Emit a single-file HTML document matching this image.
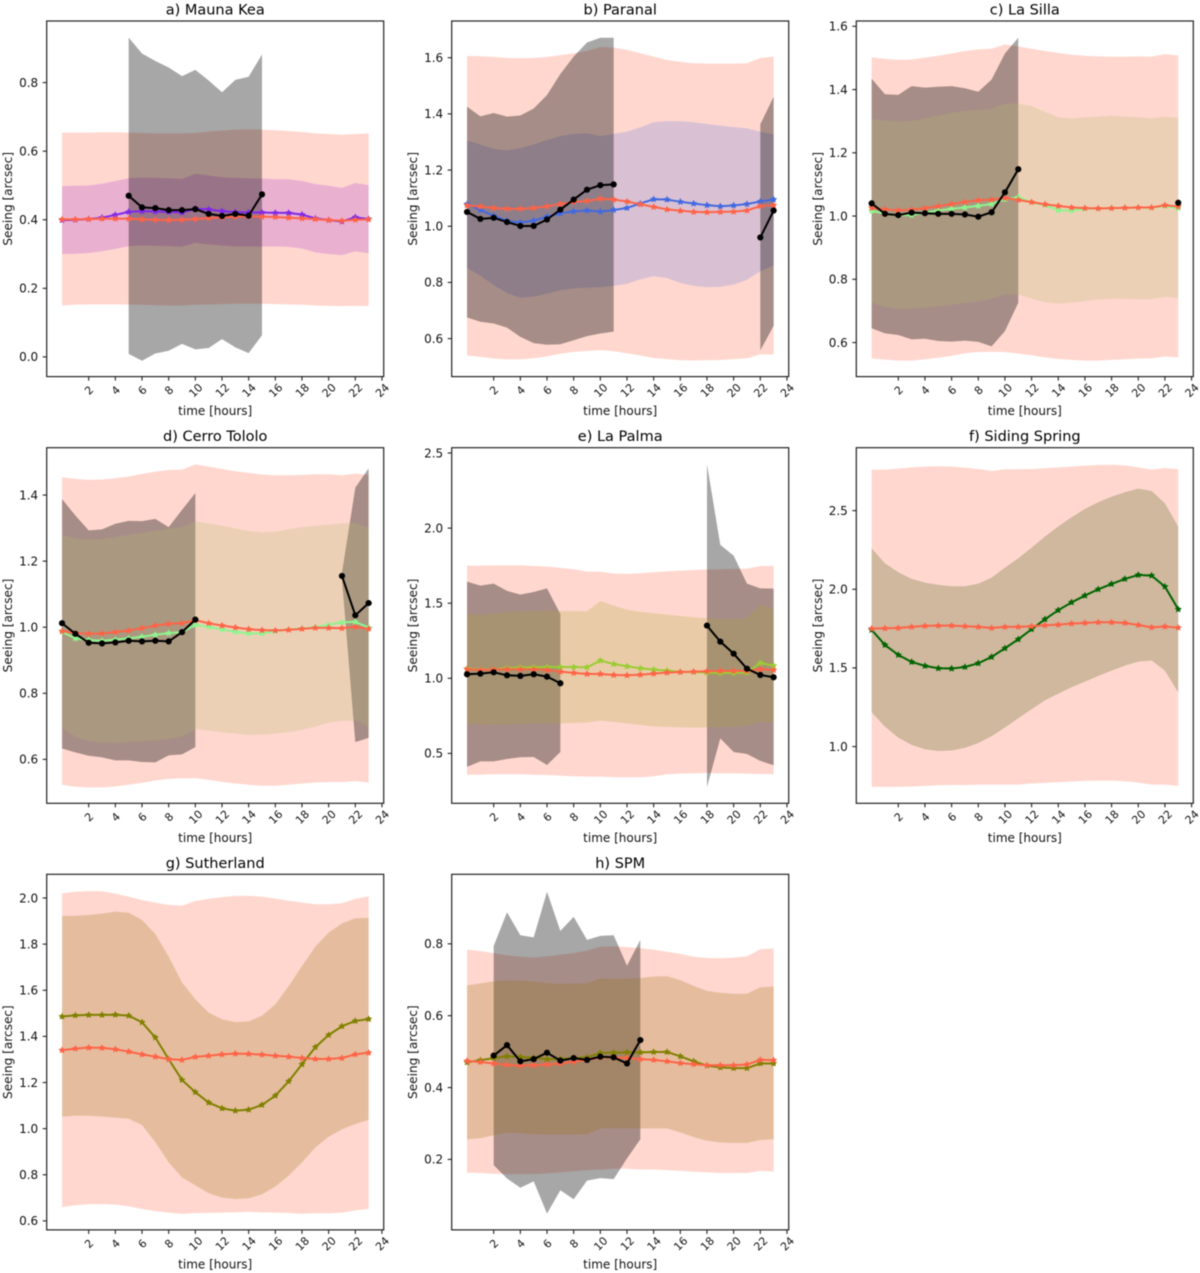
<!DOCTYPE html>
<html lang="en">
<head>
<meta charset="utf-8">
<title>Seeing versus time at eight observatory sites</title>
<style>
html,body{margin:0;padding:0;background:#fff;}
svg{display:block;font-family:"DejaVu Sans","Liberation Sans",sans-serif;filter:blur(0.4px);}
</style>
</head>
<body>
<svg id="figure" xmlns="http://www.w3.org/2000/svg" width="1200" height="1273" viewBox="0 0 1200 1273"></svg>
<script>
const _ = null;
const hours = [0,1,2,3,4,5,6,7,8,9,10,11,12,13,14,15,16,17,18,19,20,21,22,23];
const xTickValues = [2,4,6,8,10,12,14,16,18,20,22,24];
const xAxisLabel = 'time [hours]';
const yAxisLabel = 'Seeing [arcsec]';

// a) Mauna Kea
const aTicks = [0.0,0.2,0.4,0.6,0.8];
const aPinkUp = [.654,.654,.654,.655,.655,.654,.653,.652,.652,.652,.653,.657,.660,.663,.664,.663,.661,.659,.656,.652,.650,.648,.650,.652];
const aPinkLo = [.150,.152,.153,.153,.153,.153,.152,.151,.150,.150,.152,.153,.154,.155,.155,.155,.154,.153,.152,.150,.149,.148,.149,.149];
const aRed = [.401,.401,.402,.403,.403,.403,.401,.400,.399,.400,.402,.405,.407,.409,.410,.409,.408,.406,.404,.402,.399,.397,.400,.401];
const aMid = [.399,.400,.402,.406,.414,.423,.425,.424,.423,.421,.432,.430,.425,.422,.421,.421,.420,.420,.415,.404,.399,.395,.407,.402];
const aBandUp = [.498,.499,.500,.505,.513,.521,.523,.522,.521,.519,.534,.529,.524,.522,.521,.520,.518,.518,.513,.504,.499,.493,.507,.501];
const aBandLo = [.300,.301,.303,.308,.315,.323,.325,.324,.323,.321,.333,.328,.325,.322,.322,.322,.322,.321,.316,.305,.300,.297,.308,.302];
const aBlack = [_,_,_,_,_,.470,.436,.434,.428,.428,.431,.417,.411,.417,.412,.474,_,_,_,_,_,_,_,_];
const aBlackUp = [_,_,_,_,_,.931,.885,.863,.844,.819,.837,.806,.772,.808,.817,.882,_,_,_,_,_,_,_,_];
const aBlackLo = [_,_,_,_,_,.009,-.011,.010,.018,.038,.022,.026,.052,.028,.011,.063,_,_,_,_,_,_,_,_];

// b) Paranal
const bTicks = [0.6,0.8,1.0,1.2,1.4,1.6];
const bPinkUp = [1.606,1.605,1.603,1.599,1.598,1.599,1.603,1.609,1.616,1.624,1.638,1.636,1.628,1.616,1.604,1.592,1.585,1.580,1.579,1.579,1.579,1.580,1.599,1.604];
const bPinkLo = [.540,.535,.529,.526,.526,.530,.537,.546,.553,.556,.559,.555,.548,.540,.531,.527,.523,.522,.523,.524,.527,.530,.544,.543];
const bRed = [1.074,1.070,1.065,1.062,1.062,1.065,1.071,1.079,1.087,1.090,1.098,1.095,1.088,1.078,1.069,1.060,1.055,1.051,1.050,1.051,1.052,1.056,1.072,1.075];
const bMid = [1.079,1.058,1.037,1.019,1.013,1.020,1.034,1.046,1.053,1.056,1.052,1.058,1.065,1.081,1.096,1.095,1.087,1.081,1.075,1.071,1.074,1.079,1.088,1.095];
const bBandUp = [1.305,1.291,1.276,1.270,1.278,1.291,1.307,1.321,1.329,1.331,1.321,1.329,1.337,1.352,1.370,1.374,1.374,1.370,1.364,1.358,1.353,1.349,1.336,1.327];
const bBandLo = [.851,.824,.791,.762,.746,.749,.760,.772,.779,.781,.783,.788,.795,.811,.822,.816,.798,.788,.783,.784,.792,.809,.840,.860];
const bBlack = [1.051,1.026,1.030,1.015,1.001,1.001,1.024,1.059,1.095,1.130,1.146,1.149,_,_,_,_,_,_,_,_,_,_,.960,1.056];
const bBlackUp = [1.426,1.391,1.403,1.390,1.394,1.419,1.467,1.542,1.604,1.654,1.671,1.671,_,_,_,_,_,_,_,_,_,_,1.363,1.461];
const bBlackLo = [.675,.660,.654,.639,.606,.584,.578,.580,.594,.609,.618,.625,_,_,_,_,_,_,_,_,_,_,.558,.646];

// c) La Silla
const cTicks = [0.6,0.8,1.0,1.2,1.4,1.6];
const cPinkUp = [1.502,1.497,1.494,1.495,1.501,1.507,1.514,1.522,1.527,1.529,1.543,1.536,1.529,1.522,1.516,1.510,1.507,1.505,1.504,1.504,1.505,1.504,1.512,1.508];
const cPinkLo = [.550,.546,.543,.543,.547,.552,.558,.566,.570,.571,.570,.565,.560,.553,.548,.545,.543,.543,.545,.547,.549,.550,.556,.553];
const cRed = [1.026,1.021,1.018,1.020,1.025,1.031,1.038,1.044,1.050,1.052,1.057,1.051,1.044,1.037,1.032,1.027,1.025,1.024,1.025,1.026,1.027,1.027,1.034,1.030];
const cMid = [1.016,1.008,1.003,1.003,1.011,1.017,1.023,1.027,1.032,1.038,1.053,1.059,1.043,1.035,1.018,1.017,1.023,1.024,1.025,1.026,1.027,1.026,1.032,1.025];
const cBandUp = [1.306,1.302,1.298,1.301,1.308,1.318,1.327,1.332,1.335,1.339,1.356,1.356,1.348,1.330,1.312,1.309,1.312,1.315,1.317,1.315,1.313,1.309,1.314,1.311];
const cBandLo = [.726,.713,.707,.708,.711,.715,.720,.725,.730,.738,.753,.752,.739,.727,.723,.726,.731,.736,.738,.738,.737,.737,.745,.740];
const cBlack = [1.040,1.007,1.003,1.011,1.009,1.007,1.007,1.005,.998,1.012,1.075,1.148,_,_,_,_,_,_,_,_,_,_,_,1.042];
const cBlackUp = [1.434,1.385,1.383,1.411,1.406,1.409,1.411,1.404,1.393,1.432,1.514,1.564,_,_,_,_,_,_,_,_,_,_,_,_];
const cBlackLo = [.645,.629,.624,.610,.612,.605,.603,.606,.602,.588,.636,.726,_,_,_,_,_,_,_,_,_,_,_,_];

// d) Cerro Tololo
const dTicks = [0.6,0.8,1.0,1.2,1.4];
const dPinkUp = [1.454,1.449,1.446,1.447,1.451,1.456,1.464,1.471,1.476,1.477,1.493,1.486,1.479,1.472,1.467,1.462,1.460,1.460,1.461,1.463,1.463,1.460,1.465,1.461];
const dPinkLo = [.523,.517,.515,.515,.518,.523,.529,.536,.541,.543,.543,.538,.532,.527,.523,.520,.520,.523,.527,.530,.531,.531,.534,.530];
const dRed = [.988,.982,.980,.981,.985,.990,.997,1.005,1.010,1.012,1.021,1.012,1.005,.999,.994,.991,.990,.992,.995,.998,.998,.997,1.001,.995];
const dMid = [.986,.966,.961,.959,.962,.966,.971,.977,.982,.985,1.007,1.001,.993,.986,.981,.981,.988,.993,.996,1.000,1.007,1.015,1.016,.999];
const dBandUp = [1.279,1.269,1.265,1.267,1.273,1.279,1.286,1.292,1.298,1.303,1.321,1.314,1.307,1.299,1.291,1.287,1.289,1.297,1.303,1.307,1.311,1.314,1.316,1.299];
const dBandLo = [.694,.669,.655,.651,.650,.653,.655,.658,.662,.669,.691,.687,.682,.678,.674,.675,.678,.682,.689,.699,.711,.716,.718,.699];
const dBlack = [1.012,.980,.953,.951,.954,.959,.957,.959,.957,.985,1.023,_,_,_,_,_,_,_,_,_,_,1.155,1.036,1.073];
const dBlackUp = [1.388,1.338,1.293,1.296,1.313,1.322,1.321,1.328,1.303,1.355,1.406,_,_,_,_,_,_,_,_,_,_,1.165,1.422,1.481];
const dBlackLo = [.633,.621,.611,.606,.597,.597,.592,.591,.612,.615,.637,_,_,_,_,_,_,_,_,_,_,1.145,.652,.665];

// e) La Palma
const eTicks = [0.5,1.0,1.5,2.0,2.5];
const ePinkUp = [1.750,1.750,1.752,1.752,1.752,1.748,1.744,1.735,1.726,1.710,1.710,1.697,1.695,1.699,1.706,1.712,1.717,1.721,1.724,1.726,1.728,1.730,1.748,1.748];
const ePinkLo = [.358,.358,.361,.361,.361,.358,.356,.352,.347,.345,.345,.341,.341,.341,.347,.361,.365,.367,.370,.367,.367,.365,.363,.361];
const eRed = [1.060,1.055,1.058,1.060,1.060,1.060,1.055,1.044,1.036,1.029,1.029,1.022,1.020,1.024,1.031,1.038,1.042,1.044,1.047,1.049,1.049,1.049,1.060,1.055];
const eMid = [1.064,1.058,1.060,1.067,1.071,1.073,1.075,1.075,1.075,1.073,1.118,1.095,1.080,1.067,1.058,1.051,1.042,1.042,1.038,1.036,1.036,1.038,1.102,1.084];
const eBandUp = [1.426,1.422,1.431,1.440,1.446,1.448,1.451,1.448,1.448,1.446,1.515,1.484,1.457,1.442,1.433,1.424,1.415,1.406,1.400,1.395,1.393,1.400,1.491,1.462];
const eBandLo = [.696,.694,.691,.694,.696,.698,.700,.700,.703,.705,.718,.709,.700,.689,.680,.676,.674,.671,.674,.676,.680,.683,.711,.707];
const eBlack = [1.027,1.031,1.040,1.020,1.016,1.027,1.011,.967,_,_,_,_,_,_,_,_,_,_,1.351,1.244,1.164,1.064,1.022,1.007];
const eBlackUp = [1.644,1.617,1.630,1.582,1.557,1.575,1.599,1.428,_,_,_,_,_,_,_,_,_,_,2.425,1.888,1.817,1.630,1.599,1.597];
const eBlackLo = [.410,.447,.447,.463,.474,.476,.423,.509,_,_,_,_,_,_,_,_,_,_,.276,.600,.509,.496,.450,.421];

// f) Siding Spring
const fTicks = [1.0,1.5,2.0,2.5];
const fPinkUp = [2.761,2.761,2.767,2.775,2.780,2.782,2.780,2.773,2.765,2.752,2.763,2.763,2.765,2.769,2.775,2.780,2.786,2.790,2.792,2.788,2.775,2.761,2.771,2.763];
const fPinkLo = [.744,.744,.744,.746,.750,.754,.756,.756,.758,.758,.758,.758,.765,.769,.773,.778,.782,.784,.784,.780,.771,.758,.758,.750];
const fRed = [1.750,1.752,1.754,1.761,1.767,1.769,1.769,1.765,1.761,1.754,1.761,1.761,1.765,1.771,1.775,1.782,1.786,1.790,1.790,1.786,1.773,1.758,1.763,1.756];
const fMid = [1.742,1.646,1.583,1.538,1.513,1.498,1.496,1.506,1.530,1.570,1.625,1.682,1.746,1.809,1.867,1.917,1.960,2.000,2.034,2.066,2.091,2.087,2.017,1.873];
const fBandUp = [2.261,2.165,2.108,2.066,2.042,2.028,2.019,2.019,2.036,2.074,2.138,2.197,2.265,2.335,2.400,2.458,2.511,2.553,2.589,2.617,2.640,2.625,2.547,2.398];
const fBandLo = [1.218,1.127,1.057,1.011,.983,.972,.975,.992,1.023,1.066,1.121,1.180,1.237,1.294,1.337,1.377,1.413,1.449,1.483,1.515,1.540,1.547,1.483,1.345];

// g) Sutherland
const gTicks = [0.6,0.8,1.0,1.2,1.4,1.6,1.8,2.0];
const gPinkUp = [2.020,2.027,2.030,2.029,2.019,2.006,1.991,1.980,1.970,1.967,1.987,1.996,2.004,2.009,2.009,2.006,1.997,1.988,1.980,1.973,1.973,1.977,1.996,2.007];
const gPinkLo = [.660,.668,.673,.673,.671,.663,.652,.642,.636,.630,.634,.634,.636,.637,.639,.637,.636,.634,.631,.633,.633,.636,.645,.652];
const gRed = [1.340,1.347,1.351,1.350,1.344,1.334,1.322,1.312,1.301,1.298,1.311,1.316,1.322,1.325,1.324,1.321,1.316,1.312,1.306,1.302,1.302,1.306,1.322,1.329];
const gMid = [1.486,1.491,1.493,1.493,1.494,1.490,1.461,1.395,1.301,1.211,1.158,1.113,1.088,1.078,1.082,1.103,1.143,1.205,1.279,1.353,1.406,1.444,1.467,1.475];
const gBandUp = [1.922,1.923,1.926,1.932,1.941,1.936,1.905,1.844,1.746,1.634,1.561,1.503,1.474,1.462,1.465,1.490,1.539,1.618,1.705,1.789,1.850,1.890,1.912,1.913];
const gBandLo = [1.052,1.056,1.056,1.052,1.048,1.043,1.016,.941,.854,.788,.754,.720,.701,.695,.698,.715,.749,.796,.854,.918,.965,.997,1.020,1.038];

// h) SPM
const hTicks = [0.2,0.4,0.6,0.8];
const hPinkUp = [.784,.780,.774,.768,.764,.762,.765,.770,.774,.781,.792,.793,.791,.788,.784,.778,.772,.764,.761,.760,.762,.765,.785,.787];
const hPinkLo = [.163,.162,.160,.159,.159,.159,.161,.164,.167,.170,.172,.174,.174,.172,.172,.170,.168,.166,.164,.162,.162,.162,.168,.166];
const hRed = [.474,.471,.467,.463,.461,.462,.464,.467,.472,.477,.484,.484,.482,.479,.477,.473,.468,.465,.462,.462,.462,.464,.477,.476];
const hMid = [.470,.476,.482,.487,.485,.483,.479,.479,.482,.484,.496,.497,.498,.498,.499,.499,.487,.473,.461,.456,.454,.454,.467,.467];
const hBandUp = [.684,.690,.696,.698,.697,.695,.691,.688,.690,.690,.704,.702,.703,.705,.709,.710,.699,.683,.669,.664,.661,.661,.679,.681];
const hBandLo = [.256,.259,.267,.275,.273,.270,.269,.269,.269,.270,.286,.287,.287,.286,.286,.286,.275,.262,.252,.247,.246,.246,.254,.256];
const hBlack = [_,_,.489,.518,.473,.479,.497,.475,.482,.477,.486,.484,.467,.532,_,_,_,_,_,_,_,_,_,_];
const hBlackUp = [_,_,.794,.888,.824,.818,.945,.836,.875,.811,.822,.824,.739,.811,_,_,_,_,_,_,_,_,_,_];
const hBlackLo = [_,_,.184,.147,.121,.139,.049,.114,.089,.141,.148,.145,.203,.256,_,_,_,_,_,_,_,_,_,_];

const NS = 'http://www.w3.org/2000/svg';
const figure = document.getElementById('figure');
const AXES_W = 337, AXES_H = 355.6, X_MIN = -1.15, X_MAX = 24.13;

function make(tag, parent, attrs) {
  const el = document.createElementNS(NS, tag);
  for (const k in attrs) el.setAttribute(k, attrs[k]);
  parent.appendChild(el);
  return el;
}

function runs(xs, a, b) {
  const out = [];
  let cur = [];
  xs.forEach(function (x, i) {
    if (a[i] === null || (b && b[i] === null)) {
      if (cur.length) out.push(cur);
      cur = [];
    } else cur.push(i);
  });
  if (cur.length) out.push(cur);
  return out;
}

function starPath(cx, cy, r) {
  let d = '';
  for (let i = 0; i < 10; i++) {
    const rad = i % 2 ? r * 0.5 : r;
    const ang = -Math.PI / 2 + i * Math.PI / 5;
    d += (i ? 'L' : 'M') + (cx + rad * Math.cos(ang)).toFixed(2) + ' ' + (cy + rad * Math.sin(ang)).toFixed(2);
  }
  return d + 'Z';
}

function drawPanel(key, title, left, top, yMin, yMax, yTicks, s) {
  const xs = function (h) { return left + (h - X_MIN) / (X_MAX - X_MIN) * AXES_W; };
  const ys = function (v) { return top + AXES_H - (v - yMin) / (yMax - yMin) * AXES_H; };

  const g = make('g', figure, {});
  
  

  function band(up, lo, color, opacity, name) {
    runs(hours, up, lo).forEach(function (idx) {
      let d = '';
      idx.forEach(function (i, n) { d += (n ? 'L' : 'M') + xs(hours[i]).toFixed(2) + ' ' + ys(up[i]).toFixed(2); });
      idx.slice().reverse().forEach(function (i) { d += 'L' + xs(hours[i]).toFixed(2) + ' ' + ys(lo[i]).toFixed(2); });
      const el = make('path', g, { d: d + 'Z', fill: color, 'fill-opacity': opacity });
      
      
    });
  }

  function line(vals, color, marker, name) {
    const sg = make('g', g, {});
    
    
    runs(hours, vals).forEach(function (idx) {
      if (idx.length > 1) {
        const pts = idx.map(function (i) { return xs(hours[i]).toFixed(2) + ',' + ys(vals[i]).toFixed(2); }).join(' ');
        make('polyline', sg, { points: pts, fill: 'none', stroke: color, 'stroke-width': 2, 'stroke-linejoin': 'round' });
      }
      idx.forEach(function (i) {
        if (marker === 'circle') make('circle', sg, { cx: xs(hours[i]), cy: ys(vals[i]), r: 3.1, fill: color });
        else make('path', sg, { d: starPath(xs(hours[i]), ys(vals[i]), 3.8), fill: color });
      });
    });
  }

  band(s.pinkUp, s.pinkLo, 'rgb(255,99,71)', 0.26, 'reference-band');
  if (s.blackUp && s.bandOnTop) band(s.blackUp, s.blackLo, '#000', 0.345, 'observed-band');
  band(s.bandUp, s.bandLo, s.bandColor, s.bandOpacity, 'model-band');
  if (s.blackUp && !s.bandOnTop) band(s.blackUp, s.blackLo, '#000', 0.345, 'observed-band');
  line(s.mid, s.midColor, 'star', 'model-line');
  line(s.red, 'rgb(255,99,71)', 'star', 'reference-line');
  if (s.black) line(s.black, '#000', 'circle', 'observed-line');

  const frame = make('rect', g, { x: left, y: top, width: AXES_W, height: AXES_H, fill: 'none', stroke: '#222', 'stroke-width': 1.2 });
  
  

  const bottom = top + AXES_H;
  xTickValues.forEach(function (h) {
    const x = xs(h);
    make('line', g, { x1: x, x2: x, y1: bottom, y2: bottom + 4, stroke: '#222', 'stroke-width': 1.1 });
    const t = make('text', g, {
      x: x + 0.6, y: bottom + 14, 'font-size': 11, fill: '#111', 'text-anchor': 'middle',
      'dominant-baseline': 'central', transform: 'rotate(-45 ' + (x + 0.6) + ' ' + (bottom + 14) + ')'
    });
    
    
    t.textContent = String(h);
  });
  yTicks.forEach(function (v) {
    const y = ys(v);
    make('line', g, { x1: left - 4, x2: left, y1: y, y2: y, stroke: '#222', 'stroke-width': 1.1 });
    const t = make('text', g, { x: left - 8.5, y: y + 4.3, 'font-size': 12, fill: '#111', 'text-anchor': 'end' });
    
    
    t.textContent = v.toFixed(1);
  });

  const cx = left + AXES_W / 2;
  const tt = make('text', g, { x: cx, y: top - 6.5, 'font-size': 14.5, fill: '#000', 'text-anchor': 'middle' });
  
  
  tt.textContent = title;

  const xl = make('text', g, { x: cx, y: bottom + 38.5, 'font-size': 12, fill: '#111', 'text-anchor': 'middle' });
  
  
  xl.textContent = xAxisLabel;

  const lx = left - 34.5, ly = top + AXES_H / 2;
  const yl = make('text', g, { x: lx, y: ly, 'font-size': 12.1, fill: '#111', 'text-anchor': 'middle', transform: 'rotate(-90 ' + lx + ' ' + ly + ')' });
  
  
  yl.textContent = yAxisLabel;
}

drawPanel('mauna-kea', 'a) Mauna Kea', 46.7, 21, -0.0574, 0.9796, aTicks, {
  pinkUp: aPinkUp, pinkLo: aPinkLo, red: aRed, mid: aMid, bandUp: aBandUp, bandLo: aBandLo,
  bandColor: 'rgb(186,85,211)', bandOpacity: 0.3, midColor: '#7f27ea', black: aBlack, blackUp: aBlackUp, blackLo: aBlackLo, bandOnTop: false });
drawPanel('paranal', 'b) Paranal', 451.7, 21, 0.4648, 1.7306, bTicks, {
  pinkUp: bPinkUp, pinkLo: bPinkLo, red: bRed, mid: bMid, bandUp: bBandUp, bandLo: bBandLo,
  bandColor: 'rgb(65,105,225)', bandOpacity: 0.2, midColor: '#4169e1', black: bBlack, blackUp: bBlackUp, blackLo: bBlackLo, bandOnTop: false });
drawPanel('la-silla', 'c) La Silla', 856.3, 21, 0.4923, 1.6168, cTicks, {
  pinkUp: cPinkUp, pinkLo: cPinkLo, red: cRed, mid: cMid, bandUp: cBandUp, bandLo: cBandLo,
  bandColor: 'rgb(179,188,109)', bandOpacity: 0.25, midColor: '#8ef58e', black: cBlack, blackUp: cBlackUp, blackLo: cBlackLo, bandOnTop: true });
drawPanel('cerro-tololo', 'd) Cerro Tololo', 46.7, 447.7, 0.467, 1.5433, dTicks, {
  pinkUp: dPinkUp, pinkLo: dPinkLo, red: dRed, mid: dMid, bandUp: dBandUp, bandLo: dBandLo,
  bandColor: 'rgb(179,188,109)', bandOpacity: 0.25, midColor: '#8ef58e', black: dBlack, blackUp: dBlackUp, blackLo: dBlackLo, bandOnTop: true });
drawPanel('la-palma', 'e) La Palma', 451.7, 447.7, 0.1678, 2.5353, eTicks, {
  pinkUp: ePinkUp, pinkLo: ePinkLo, red: eRed, mid: eMid, bandUp: eBandUp, bandLo: eBandLo,
  bandColor: 'rgb(167,168,53)', bandOpacity: 0.25, midColor: '#9acd32', black: eBlack, blackUp: eBlackUp, blackLo: eBlackLo, bandOnTop: true });
drawPanel('siding-spring', 'f) Siding Spring', 856.3, 447.7, 0.6395, 2.9, fTicks, {
  pinkUp: fPinkUp, pinkLo: fPinkLo, red: fRed, mid: fMid, bandUp: fBandUp, bandLo: fBandLo,
  bandColor: 'rgb(63,92,13)', bandOpacity: 0.25, midColor: '#006400' });
drawPanel('sutherland', 'g) Sutherland', 46.7, 874.3, 0.561, 2.1027, gTicks, {
  pinkUp: gPinkUp, pinkLo: gPinkLo, red: gRed, mid: gMid, bandUp: gBandUp, bandLo: gBandLo,
  bandColor: 'rgb(151,112,13)', bandOpacity: 0.25, midColor: '#808000' });
drawPanel('spm', 'h) SPM', 451.7, 874.3, 0.0038, 0.9935, hTicks, {
  pinkUp: hPinkUp, pinkLo: hPinkLo, red: hRed, mid: hMid, bandUp: hBandUp, bandLo: hBandLo,
  bandColor: 'rgb(151,112,13)', bandOpacity: 0.25, midColor: '#808000', black: hBlack, blackUp: hBlackUp, blackLo: hBlackLo, bandOnTop: true });
</script>
</body>
</html>
